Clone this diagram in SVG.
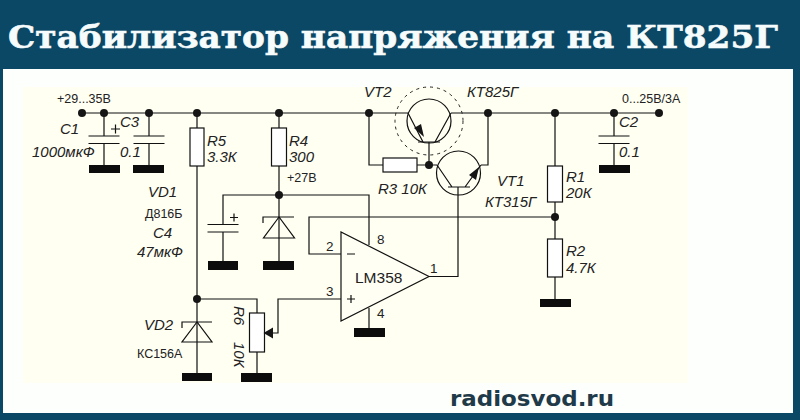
<svg xmlns="http://www.w3.org/2000/svg" width="800" height="420" viewBox="0 0 800 420">
<style>
.w{fill:none;stroke:#111;stroke-width:1.2}
.b{fill:#fff;stroke:#111;stroke-width:1.2}
.s{fill:#fffff4;stroke:#111;stroke-width:1.2}
.g{fill:#0c0c0c}
.d{fill:#151515}
.l{font-family:"Liberation Sans",Arial,sans-serif;font-size:15px;font-style:italic;fill:#222}
.t{font-family:"Liberation Sans",Arial,sans-serif;font-size:12.500px;fill:#222}
.p{font-family:"Liberation Sans",Arial,sans-serif;font-size:13.500px;fill:#222}
</style>
<defs>
<g id="cap"><path class="w" d="M-15.500 0H15.500M-15.500 7.500H15.500"/></g>
</defs>
<rect width="800" height="420" fill="#0b4866"/>
<rect x="3" y="69" width="790" height="344" fill="#fdfffd"/>
<rect x="23" y="87" width="665" height="296" fill="#fffff2"/>
<text x="8" y="48" font-family="'DejaVu Serif','Liberation Serif',serif" font-weight="700" font-size="32" fill="#f6fbfb" stroke="#f6fbfb" stroke-width="0.600" textLength="770" lengthAdjust="spacingAndGlyphs">Стабилизатор напряжения на КТ825Г</text>
<text x="450" y="405.500" font-family="'DejaVu Sans','Liberation Sans',sans-serif" font-weight="700" font-size="21" fill="#1f3a48" textLength="164" lengthAdjust="spacingAndGlyphs">radiosvod.ru</text>

<g id="connectors">
<path class="w" d="M82 113H408M451 113H659"/>
<path class="w" d="M104 113V136M104 143.500V165M149 113V136M149 143.500V165"/>
<path class="w" d="M197 113V128M197 166V373"/>
<path class="w" d="M279 113V128M279 166V261M279 195H223V224M223 232V261"/>
<path class="w" d="M279 195H369V245"/>
<path class="w" d="M369 113V165H383M417 165H437M429 142V165"/>
<path class="w" d="M488 113V165H481"/>
<path class="w" d="M555 113V166M555 202V239M555 277V299"/>
<path class="w" d="M614 113V136M614 143.500V165"/>
<path class="w" d="M555 217H309V254H341"/>
<path class="w" d="M197 299H257V313M257 352V373"/>
<path class="w" d="M341 299H278V333H268"/>
<path class="w" d="M369 308V328"/>
<path class="w" d="M429 276.500H458V187"/>
</g>

<g id="junctions">
<circle class="d" cx="82" cy="113" r="4"/><circle class="d" cx="104" cy="113" r="4"/><circle class="d" cx="149" cy="113" r="4"/><circle class="d" cx="197" cy="113" r="4"/><circle class="d" cx="279" cy="113" r="4"/><circle class="d" cx="369" cy="113" r="4"/><circle class="d" cx="488" cy="113" r="4"/><circle class="d" cx="555" cy="113" r="4"/><circle class="d" cx="614" cy="113" r="4"/><circle class="d" cx="659" cy="113" r="4"/><circle class="d" cx="279" cy="195" r="4"/><circle class="d" cx="429" cy="165" r="4"/><circle class="d" cx="555" cy="217" r="4"/><circle class="d" cx="197" cy="299" r="4"/>
</g>

<g id="C1"><use href="#cap" x="104" y="136"/><rect class="g" x="89" y="165" width="31" height="8"/><path class="w" d="M111 129H120M115.500 124.500V133.500"/><text class="l" x="60" y="134">C1</text><text class="l" x="32" y="157">1000мкФ</text></g>
<g id="C3"><use href="#cap" x="149" y="136"/><rect class="g" x="133" y="165" width="31" height="8"/><text class="l" x="120" y="127">C3</text><text class="l" x="120" y="157">0.1</text></g>
<g id="input"><text class="t" x="57" y="103">+29...35В</text></g>
<g id="R5"><rect class="b" x="190" y="128" width="14" height="38"/><text class="l" x="207" y="146">R5</text><text class="l" x="207" y="162">3.3К</text></g>
<g id="R4"><rect class="b" x="271.500" y="128" width="15" height="38"/><text class="l" x="289" y="146">R4</text><text class="l" x="289" y="162">300</text><text class="t" x="287" y="182">+27В</text></g>
<g id="C4"><use href="#cap" x="223" y="224.500"/><rect class="g" x="208" y="261" width="30" height="9"/><path class="w" d="M230 217.500H238M234 213.500V221.500"/><text class="l" x="153" y="238">C4</text><text class="l" x="137" y="257">47мкФ</text></g>
<g id="VD1"><path class="w" d="M263 223V217H294M279 217L263.500 238H294.500Z"/><rect class="g" x="263" y="261" width="31" height="9"/><text class="l" x="148" y="197">VD1</text><text class="t" x="145" y="218">Д816Б</text></g>
<g id="VD2"><path class="w" d="M182 328V322H212M197 322L182 342H212Z"/><rect class="g" x="182" y="373" width="30" height="8"/><text class="l" x="144" y="330">VD2</text><text class="t" x="137" y="358">КС156А</text></g>
<g id="R6"><rect class="b" x="249.500" y="313" width="15" height="39"/><path class="d" d="M263.500 333L273 327.500V338.500Z"/><rect class="g" x="241" y="373" width="31" height="9"/><text class="l" transform="translate(234 306) rotate(90)">R6</text><text class="l" transform="translate(234 342) rotate(90)">10К</text></g>
<g id="LM358"><path class="s" d="M341 232V321L429 276.500Z"/><path class="w" d="M347 254H355M347 299H355M351 295V303"/><text x="355" y="283" font-family="'Liberation Sans',Arial,sans-serif" font-size="15.500" fill="#222">LM358</text><rect class="g" x="354" y="328" width="31" height="9"/><text class="p" x="326" y="251">2</text><text class="p" x="326" y="296">3</text><text class="p" x="377" y="244">8</text><text class="p" x="430" y="273">1</text><text class="p" x="377" y="318">4</text></g>
<g id="VT2"><circle cx="429" cy="121" r="34" fill="none" stroke="#222" stroke-width="1" stroke-dasharray="3 4"/><circle class="w" cx="429" cy="121" r="22"/><path class="w" d="M418 142H440M408 113L423 142M451 113L435 142"/><path class="d" d="M424 137L414 128L421 124Z"/><text class="l" x="364" y="97">VT2</text><text class="l" x="467" y="97">КТ825Г</text></g>
<g id="VT1"><circle class="w" cx="458.500" cy="173" r="22"/><path class="w" d="M448 187H470M437 165L452 187M481 165L465 187"/><path class="d" d="M479 167L476 180L469 175Z"/><text class="l" x="497" y="186">VT1</text><text class="l" x="485" y="207">КТ315Г</text></g>
<g id="R3"><rect class="b" x="383" y="158" width="34" height="14"/><text class="l" x="378" y="194">R3 10К</text></g>
<g id="R1"><rect class="b" x="547.500" y="166" width="15" height="36"/><text class="l" x="566" y="182">R1</text><text class="l" x="566" y="198">20К</text></g>
<g id="R2"><rect class="b" x="547.500" y="239" width="15" height="38"/><rect class="g" x="540" y="299" width="31" height="8"/><text class="l" x="566" y="256">R2</text><text class="l" x="566" y="273">4.7К</text></g>
<g id="C2"><use href="#cap" x="614" y="136"/><rect class="g" x="599" y="165" width="31" height="8"/><text class="l" x="619" y="127">C2</text><text class="l" x="619" y="157">0.1</text></g>
<g id="output"><text class="t" x="622" y="103">0...25В/3А</text></g>
</svg>
